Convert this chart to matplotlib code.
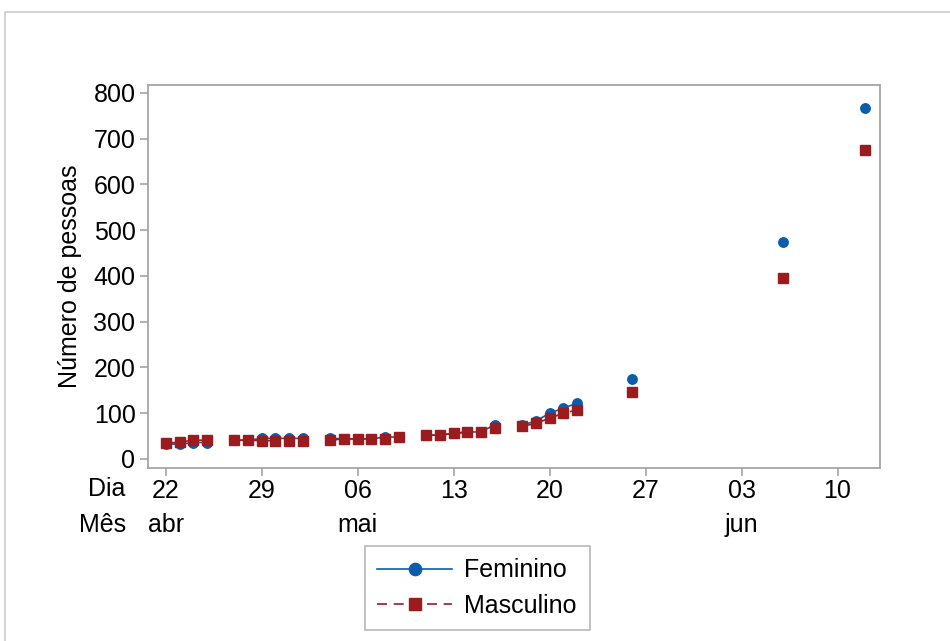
import numpy as np
import pandas as pd
import matplotlib
matplotlib.use("Agg")
import matplotlib.pyplot as plt
import matplotlib.dates as mdates
from matplotlib.transforms import blended_transform_factory
from matplotlib.patches import Rectangle

plt.rcParams['font.family'] = ['Liberation Sans', 'DejaVu Sans']

dates = ["2020-04-22", "2020-04-23", "2020-04-24", "2020-04-25",
         "2020-04-27", "2020-04-28", "2020-04-29", "2020-04-30", "2020-05-01", "2020-05-02",
         "2020-05-04", "2020-05-05", "2020-05-06", "2020-05-07", "2020-05-08", "2020-05-09",
         "2020-05-11", "2020-05-12", "2020-05-13", "2020-05-14", "2020-05-15", "2020-05-16",
         "2020-05-18", "2020-05-19", "2020-05-20", "2020-05-21", "2020-05-22",
         "2020-05-26", "2020-06-06", "2020-06-12"]
feminino = [33, 32, 36, 36,
            41, 41, 45, 45, 45, 45,
            45, 44, 44, 44, 48, 48,
            52, 52, 56, 59, 59, 75,
            74, 83, 100, 111, 122,
            175, 473, 767]
masculino = [34, 37, 41, 41,
             41, 41, 40, 40, 40, 40,
             41, 44, 44, 44, 44, 48,
             52, 52, 56, 59, 59, 67,
             71, 78, 89, 100, 107,
             147, 396, 675]

tick_dates = ["2020-04-22", "2020-04-29", "2020-05-06", "2020-05-13",
              "2020-05-20", "2020-05-27", "2020-06-03", "2020-06-10"]
day_labels = ["22", "29", "06", "13", "20", "27", "03", "10"]
month_labels = ["abr", "", "mai", "", "", "", "jun", ""]
yticks = [0, 100, 200, 300, 400, 500, 600, 700, 800]

blue = "#0B5CAD"
red = "#9B1B1E"
frame_gray = "#A6A6A6"
fs = 18

d = pd.to_datetime(dates)
x = mdates.date2num(d)
f = np.array(feminino, dtype=float)
m = np.array(masculino, dtype=float)
breaks = np.where(np.diff(x) > 1.5)[0] + 1
segs = np.split(np.arange(len(x)), breaks)

fig = plt.figure(figsize=(9.5, 6.41), dpi=100)
ax = fig.add_axes([148/950, 1-468/641, (880-148)/950, (468-85)/641])

for i, s in enumerate(segs):
    ax.plot(x[s], f[s], color=blue, lw=1.2, ls='-', marker='o', ms=6.8,
            mec=blue, mfc=blue, label="Feminino" if i == 0 else None, zorder=3)
for i, s in enumerate(segs):
    ax.plot(x[s], m[s], color=red, lw=1.2, ls=(0, (6, 4)), marker='s', ms=6.5,
            mec=red, mfc=red, label="Masculino" if i == 0 else None, zorder=4)

x0 = mdates.date2num(pd.Timestamp("2020-04-22"))
ax.set_xlim(x0 - 1.3, x0 + 52.1)
ax.set_ylim(-19.7, 817)

tx = mdates.date2num(pd.to_datetime(tick_dates))
ax.set_xticks(tx)
ax.set_xticklabels(day_labels)
ax.set_yticks(yticks)
ax.tick_params(axis='both', labelsize=fs, color=frame_gray, width=1.2, length=6,
               direction='out', pad=3)
ax.tick_params(axis='x', pad=2)
for sp in ax.spines.values():
    sp.set_color(frame_gray)
    sp.set_linewidth(1.3)

ax.set_ylabel("Número de pessoas", fontsize=fs, labelpad=8)

trans = blended_transform_factory(ax.transData, fig.transFigure)
for xv, lab in zip(tx, month_labels):
    if lab:
        ax.text(xv, 1 - 525/641, lab, transform=trans, ha='center', va='center', fontsize=fs)
fig.text(107/950, 1 - 489/641, "Dia", ha='center', va='center', fontsize=fs)
fig.text(103/950, 1 - 525/641, "Mês", ha='center', va='center', fontsize=fs)

leg = fig.legend(loc='center', bbox_to_anchor=(477/950, 1 - 588/641), fontsize=fs,
                 frameon=True, fancybox=False, handlelength=3.0, handletextpad=0.5,
                 borderpad=0.5, labelspacing=0.45, borderaxespad=0, markerscale=1.3)
leg.get_frame().set_edgecolor(frame_gray)
leg.get_frame().set_linewidth(1.2)

fig.patches.append(Rectangle((5/950, -0.1), 1.2, 1 - 12/641 + 0.1, transform=fig.transFigure,
                             fill=False, edgecolor="#CCCCCC", lw=1.2, zorder=0))

fig.savefig("out.png", dpi=100)
